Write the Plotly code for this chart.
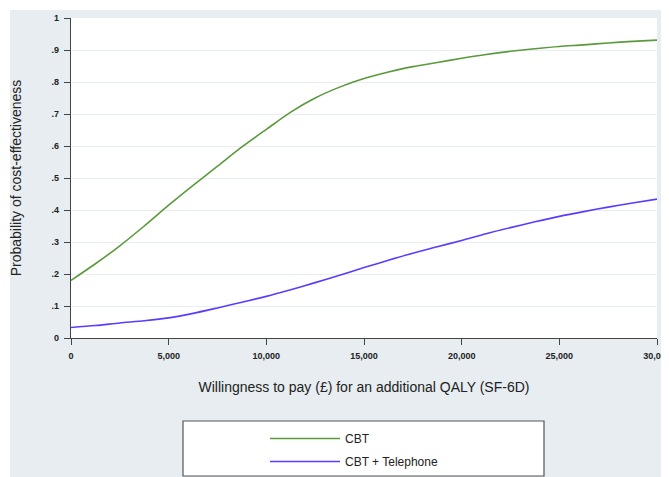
import plotly.graph_objects as go

wtp = [0, 1250, 2500, 3750, 5000, 6250, 7500, 8750, 10000, 11250, 12500, 13750, 15000,
       16250, 17500, 18750, 20000, 21250, 22500, 23750, 25000, 26250, 27500, 28750, 30000]
cbt = [0.180, 0.232, 0.288, 0.350, 0.415, 0.477, 0.537, 0.597, 0.652, 0.706, 0.750, 0.784, 0.811,
       0.831, 0.848, 0.861, 0.874, 0.886, 0.896, 0.904, 0.911, 0.916, 0.922, 0.927, 0.931]
cbt_tel = [0.033, 0.039, 0.047, 0.054, 0.063, 0.077, 0.094, 0.112, 0.130, 0.151, 0.173, 0.196, 0.220,
           0.243, 0.265, 0.285, 0.305, 0.326, 0.345, 0.363, 0.380, 0.395, 0.409, 0.422, 0.434]

y_ticks = [0, 0.1, 0.2, 0.3, 0.4, 0.5, 0.6, 0.7, 0.8, 0.9, 1]
y_labels = ["0", ".1", ".2", ".3", ".4", ".5", ".6", ".7", ".8", ".9", "1"]
x_ticks = [0, 5000, 10000, 15000, 20000, 25000, 30000]
x_labels = ["0", "5,000", "10,000", "15,000", "20,000", "25,000", "30,000"]

FONT = "Liberation Sans, Arial, sans-serif"
BG = "#e7edf0"
GRID = "#e8eef1"
AX = "#444444"

fig = go.Figure()
fig.add_trace(go.Scatter(x=wtp, y=cbt, mode="lines", name="CBT", legendgroup="a",
                         line=dict(color="#5a9a3c", width=1.6, shape="spline", smoothing=0.8)))
fig.add_trace(go.Scatter(x=wtp, y=cbt_tel, mode="lines", name="CBT + Telephone", legendgroup="b",
                         line=dict(color="#5b3cff", width=1.6, shape="spline", smoothing=0.8)))

# page body adds an 8px offset; figure coords = screen coords - 8
OFF = 8
W, H = 669 - OFF, 477 - OFF
L, R, T, B = 71 - OFF, 12, 18 - OFF, 139
pw = W - L - R
ph = H - T - B

def px(xs):
    return (xs - OFF - L) / pw

def py(ys):
    return (H - B - (ys - OFF)) / ph

shapes = [
    dict(type="rect", xref="paper", yref="paper", x0=px(0), x1=px(10), y0=py(H + 20), y1=py(0),
         fillcolor="white", line=dict(width=0), layer="below"),
    dict(type="rect", xref="paper", yref="paper", x0=px(0), x1=px(W + 20), y0=py(10), y1=py(0),
         fillcolor="white", line=dict(width=0), layer="below"),
    dict(type="rect", xref="paper", yref="paper", x0=px(183), x1=px(544), y0=py(476), y1=py(421),
         fillcolor="white", line=dict(color="#555555", width=1.2), layer="below"),
]

fig.update_layout(
    width=W, height=H,
    margin=dict(l=L, r=R, t=T, b=B, autoexpand=False),
    paper_bgcolor=BG,
    plot_bgcolor="white",
    font=dict(family=FONT, color="#222222"),
    shapes=shapes,
    showlegend=True,
    legend=dict(
        x=px(265), y=py(424), xanchor="left", yanchor="top",
        bgcolor="rgba(0,0,0,0)", borderwidth=0,
        font=dict(family=FONT, size=12, color="#222222"),
        itemwidth=70, traceorder="grouped", tracegroupgap=4,
    ),
    xaxis=dict(
        range=[0, 30000], tickmode="array", tickvals=x_ticks, ticktext=x_labels,
        showgrid=False, zeroline=False, automargin=False, ticklabeloverflow="allow",
        showline=True, linecolor=AX, linewidth=1.2,
        ticks="outside", ticklen=6, tickcolor=AX, tickwidth=1.2, ticklabelstandoff=3,
        tickfont=dict(family=FONT, size=9, color="#222222", weight="bold"),
        title=dict(text="Willingness to pay (£) for an additional QALY (SF-6D)",
                   font=dict(family=FONT, size=14, color="#222222"), standoff=22),
    ),
    yaxis=dict(
        range=[0, 1], tickmode="array", tickvals=y_ticks, ticktext=y_labels,
        showgrid=True, gridcolor=GRID, gridwidth=1.2, zeroline=False, automargin=False,
        showline=True, linecolor=AX, linewidth=1.2,
        ticks="outside", ticklen=6, tickcolor=AX, tickwidth=1.2, ticklabelstandoff=3,
        tickfont=dict(family=FONT, size=9, color="#222222", weight="bold"),
        title=dict(text="Probability of cost-effectiveness",
                   font=dict(family=FONT, size=14, color="#222222"), standoff=29),
    ),
)

fig.write_html("out.html")
